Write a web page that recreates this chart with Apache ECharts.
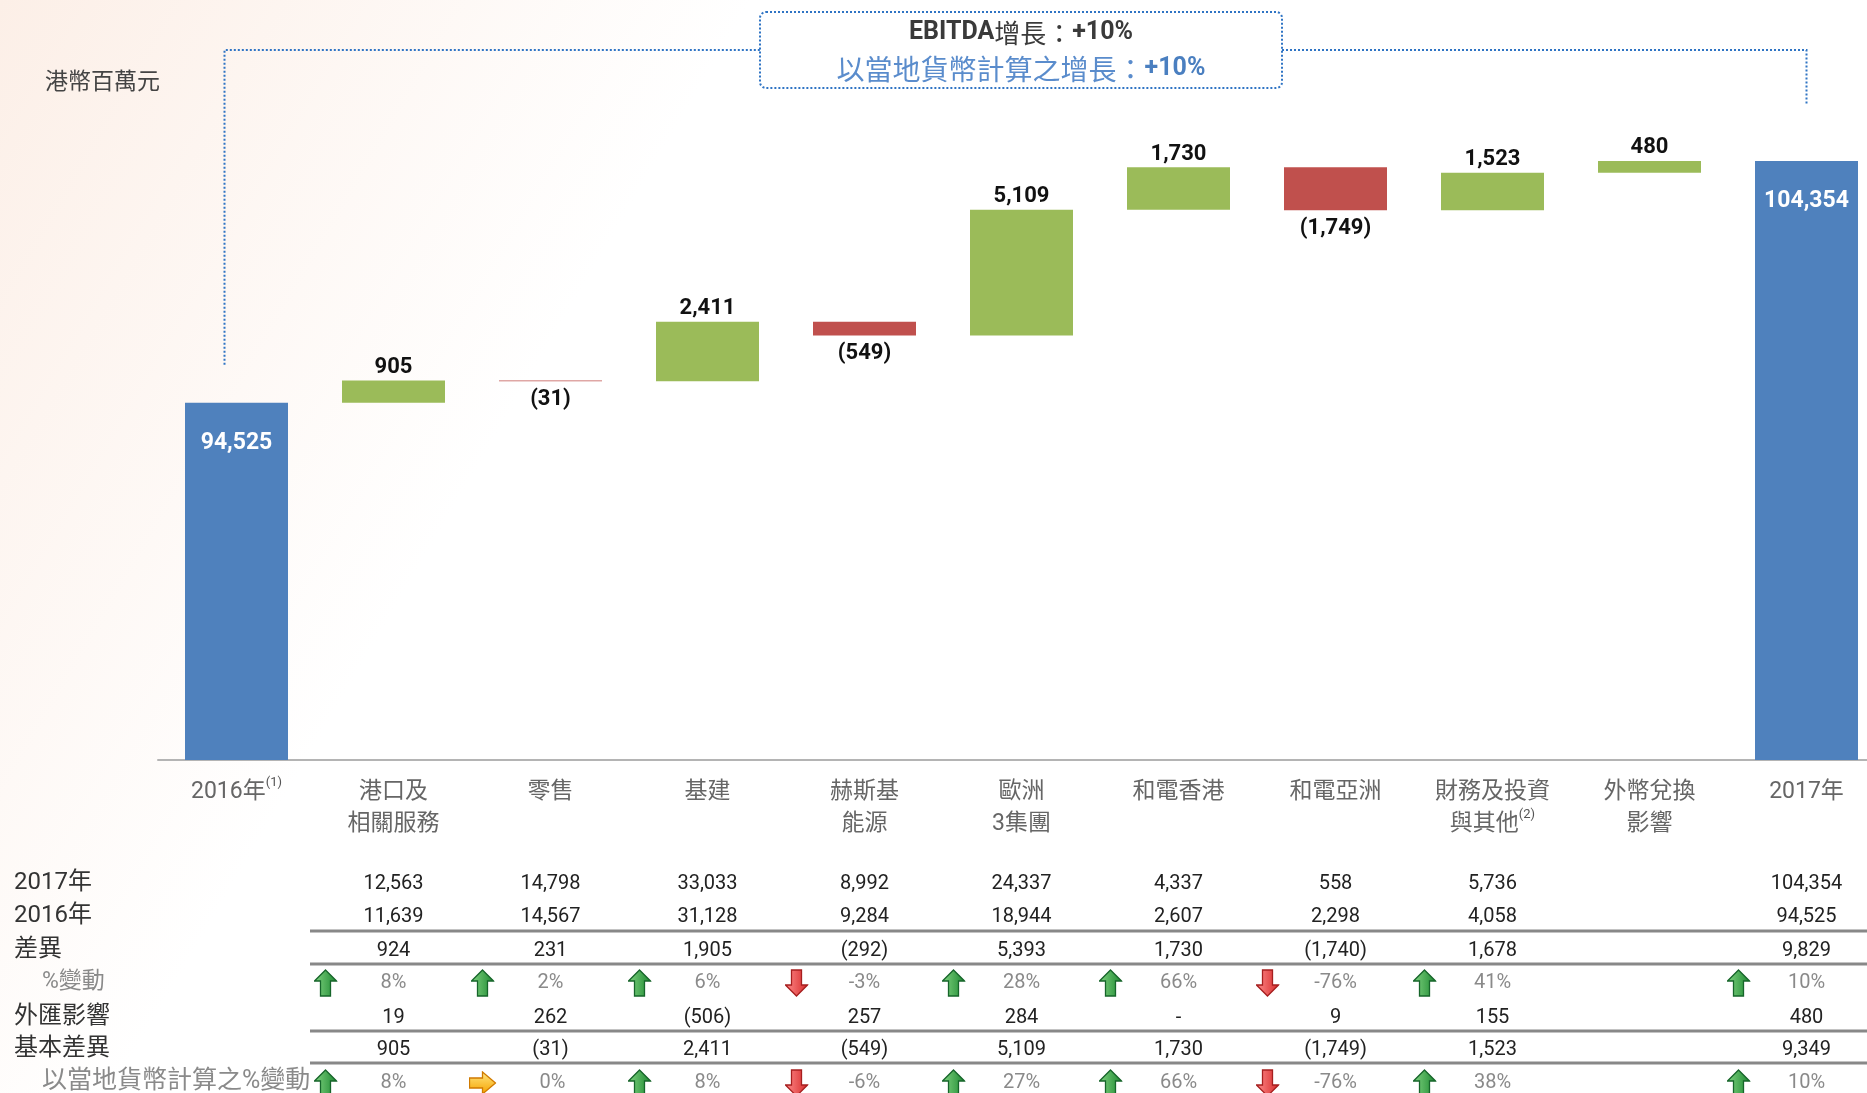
<!DOCTYPE html>
<html><head><meta charset="utf-8">
<script src="https://cdn.jsdelivr.net/npm/echarts@6/dist/echarts.min.js"></script>
<style>html,body{margin:0;padding:0;background:#fff}#c{width:1867px;height:1093px}</style>
</head><body><div id="c"></div>
<script>
// ---------- DATA ----------
const categories = ['2016年', '港口及\n相關服務', '零售', '基建', '赫斯基\n能源', '歐洲\n3集團', '和電香港', '和電亞洲', '財務及投資\n與其他', '外幣兌換\n影響', '2017年'];
const footnotes = ['(1)', '', '', '', '', '', '', '', '(2)', '', ''];
const startTotal = 94525;
const endTotal = 104354;
const deltas = [905, -31, 2411, -549, 5109, 1730, -1749, 1523, 480];

const rowLabels = ['2017年', '2016年', '差異', '%變動', '外匯影響', '基本差異', '以當地貨幣計算之%變動'];
const row2017 = [null, 12563, 14798, 33033, 8992, 24337, 4337, 558, 5736, null, 104354];
const row2016 = [null, 11639, 14567, 31128, 9284, 18944, 2607, 2298, 4058, null, 94525];
const rowDiff = [null, 924, 231, 1905, -292, 5393, 1730, -1740, 1678, null, 9829];
const rowPct = [null, 8, 2, 6, -3, 28, 66, -76, 41, null, 10];
const rowFx = [null, 19, 262, -506, 257, 284, 0, 9, 155, null, 480];
const rowUnderlying = [null, 905, -31, 2411, -549, 5109, 1730, -1749, 1523, null, 9349];
const rowLocalPct = [null, 8, 0, 8, -6, 27, 66, -76, 38, null, 10];

const unitLabel = '港幣百萬元';
const growthLine1 = ['EBITDA', '增長：', '+10%'];
const growthLine2 = ['以當地貨幣計算之增長：', '+10%'];

// ---------- STYLE ----------
const NUM_FONT = 'Roboto,"Noto Sans CJK TC",sans-serif';
const CJK_FONT = '"Noto Sans CJK TC",Roboto,sans-serif';
const GREEN = '#9bbb59', RED = '#c0504d', BLUE = '#4f81bd';

function fmtNum(v) {
  if (v === null || v === undefined) return '';
  if (v === 0) return '-';
  const s = Math.abs(v).toLocaleString('en-US');
  return v < 0 ? '(' + s + ')' : s;
}
function svgUri(s) { return 'data:image/svg+xml;charset=utf-8,' + encodeURIComponent(s); }
const upArrow = svgUri('<svg xmlns="http://www.w3.org/2000/svg" width="24" height="28" viewBox="0 0 24 28"><defs><linearGradient id="g" x1="0" y1="0" x2="1" y2="0"><stop offset="0" stop-color="#7fd27f"/><stop offset="1" stop-color="#1f8a33"/></linearGradient></defs><polygon points="12,1 23,12 17,12 17,27 7,27 7,12 1,12" fill="url(#g)" stroke="#16652a" stroke-width="1.3"/></svg>');
const downArrow = svgUri('<svg xmlns="http://www.w3.org/2000/svg" width="24" height="28" viewBox="0 0 24 28"><defs><linearGradient id="g" x1="0" y1="0" x2="1" y2="0"><stop offset="0" stop-color="#ff8a8a"/><stop offset="1" stop-color="#d62c2c"/></linearGradient></defs><polygon points="12,27 23,16 17,16 17,1 7,1 7,16 1,16" fill="url(#g)" stroke="#a61f1f" stroke-width="1.3"/></svg>');
const rightArrow = svgUri('<svg xmlns="http://www.w3.org/2000/svg" width="28" height="24" viewBox="0 0 28 24"><defs><linearGradient id="g" x1="0" y1="0" x2="0" y2="1"><stop offset="0" stop-color="#ffe680"/><stop offset="1" stop-color="#f5a300"/></linearGradient></defs><polygon points="1,7 14,7 14,1 27,12 14,23 14,17 1,17" fill="url(#g)" stroke="#d07a00" stroke-width="1.3"/></svg>');

// ---------- WATERFALL ----------
const n = categories.length;
const baseData = new Array(n).fill('-');
const totalData = new Array(n).fill('-');
const posData = new Array(n).fill('-');
const negData = new Array(n).fill('-');
totalData[0] = startTotal;
totalData[n - 1] = endTotal;
let running = startTotal;
deltas.forEach((d, k) => {
  const i = k + 1;
  if (d >= 0) { baseData[i] = running; posData[i] = d; }
  else { baseData[i] = running + d; negData[i] = -d; }
  running += d;
});

const AXIS_Y = 760;
const rowY = [883, 916, 950, 982, 1017, 1049, 1082];
const VAL_SHIFT = 1;
const rows = [
  { data: row2017, type: 'num' }, { data: row2016, type: 'num' }, { data: rowDiff, type: 'num' },
  { data: rowPct, type: 'pct' }, { data: rowFx, type: 'num' }, { data: rowUnderlying, type: 'num' },
  { data: rowLocalPct, type: 'pct' }
];

const xAxes = [{
  type: 'category', data: categories, gridIndex: 0, position: 'bottom',
  axisLine: { lineStyle: { color: '#b4b4b4', width: 2 } },
  axisTick: { show: false },
  axisLabel: {
    interval: 0, margin: 16, color: '#666', fontSize: 23, lineHeight: 32, fontFamily: NUM_FONT,
    formatter: (v, i) => v + (footnotes[i] ? '{sup|' + footnotes[i] + '}' : ''),
    rich: { sup: { fontSize: 13, color: '#555', fontFamily: NUM_FONT, verticalAlign: 'top', padding: [0, 0, 16, 0] } }
  }
}];
rows.forEach((r, ri) => {
  xAxes.push({
    type: 'category', data: categories, gridIndex: 0, position: 'bottom',
    offset: rowY[ri] + VAL_SHIFT - AXIS_Y,
    axisLine: { show: false }, axisTick: { show: false },
    axisLabel: {
      interval: 0, margin: 0, verticalAlign: 'middle', fontFamily: NUM_FONT, fontSize: 20, color: '#222',
      formatter: (v, i) => {
        const val = r.data[i];
        if (val === null) return '';
        if (r.type === 'num') return fmtNum(val);
        const arrow = val > 0 ? 'up' : (val < 0 ? 'down' : 'right');
        return '{' + arrow + '|}{p|' + val + '%}{s|}';
      },
      rich: {
        up: { width: 24, height: 28, backgroundColor: { image: upArrow } },
        down: { width: 24, height: 28, backgroundColor: { image: downArrow } },
        right: { width: 28, height: 24, backgroundColor: { image: rightArrow } },
        p: { width: 112, align: 'center', color: '#8a8a8a', fontSize: 20, fontFamily: NUM_FONT },
        s: { width: 24 }
      }
    }
  });
});

const chart = echarts.init(document.getElementById('c'), null, { renderer: 'canvas' });
const option = {
  backgroundColor: {
    type: 'linear', x: 0, y: 0, x2: 1, y2: 1,
    colorStops: [{ offset: 0, color: '#fcefe7' }, { offset: 0.3, color: '#ffffff' }, { offset: 1, color: '#ffffff' }]
  },
  animation: false,
  grid: { left: 158, top: 22, width: 1727, bottom: 1093 - AXIS_Y, containLabel: false, outerBoundsMode: 'none' },
  xAxis: xAxes,
  yAxis: { type: 'value', min: 80000, max: 110000, show: false, splitLine: { show: false } },
  series: [
    { type: 'bar', stack: 'w', data: baseData, barWidth: 103, itemStyle: { color: 'transparent' }, silent: true },
    { type: 'bar', stack: 'w', data: totalData, barWidth: 103, itemStyle: { color: BLUE },
      label: { show: true, position: 'insideTop', distance: 29, color: '#fff', fontWeight: 'bold', fontSize: 23, fontFamily: NUM_FONT,
        formatter: p => fmtNum(p.value) } },
    { type: 'bar', stack: 'w', data: posData, barWidth: 103, itemStyle: { color: GREEN },
      label: { show: true, position: 'top', distance: 2, color: '#111', fontWeight: 'bold', fontSize: 22, fontFamily: NUM_FONT,
        formatter: p => fmtNum(deltas[p.dataIndex - 1]) } },
    { type: 'bar', stack: 'w', data: negData, barWidth: 103, itemStyle: { color: RED },
      label: { show: true, position: 'bottom', distance: 7, color: '#111', fontWeight: 'bold', fontSize: 22, fontFamily: NUM_FONT,
        formatter: p => fmtNum(deltas[p.dataIndex - 1]) } }
  ]
};
chart.setOption(option);

// ---------- ANNOTATIONS (positions derived from the axes) ----------
const pStart = chart.convertToPixel({ gridIndex: 0 }, [0, startTotal]);
const pEnd = chart.convertToPixel({ gridIndex: 0 }, [n - 1, endTotal]);
const bracketY = 50;
const boxL = 760, boxR = 1282, boxT = 12, boxB = 88;
const dotted = { stroke: '#2f74c4', lineWidth: 2, lineDash: [2, 2] };
const graphics = [
  { type: 'polyline', silent: true, shape: { points: [[pStart[0] - 12, pStart[1] - 38], [pStart[0] - 12, bracketY], [boxL, bracketY]] }, style: Object.assign({ fill: null }, dotted) },
  { type: 'polyline', silent: true, shape: { points: [[boxR, bracketY], [pEnd[0], bracketY], [pEnd[0], pEnd[1] - 57]] }, style: Object.assign({ fill: null }, dotted) },
  { type: 'rect', silent: true, shape: { x: boxL, y: boxT, width: boxR - boxL, height: boxB - boxT, r: 6 }, style: Object.assign({ fill: 'rgba(255,255,255,0.6)' }, dotted) },
  { type: 'text', silent: true, x: (boxL + boxR) / 2, y: 33, style: {
      text: '{a|' + growthLine1[0] + '}{b|' + growthLine1[1] + '}{a|' + growthLine1[2] + '}', align: 'center', verticalAlign: 'middle',
      rich: { a: { fontSize: 25, fontWeight: 'bold', fill: '#3a3a3a', fontFamily: NUM_FONT }, b: { fontSize: 26, fill: '#3a3a3a', fontFamily: CJK_FONT } } } },
  { type: 'text', silent: true, x: (boxL + boxR) / 2, y: 69, style: {
      text: '{b|' + growthLine2[0] + '}{a|' + growthLine2[1] + '}', align: 'center', verticalAlign: 'middle',
      rich: { a: { fontSize: 25, fontWeight: 'bold', fill: '#4a7fc0', fontFamily: NUM_FONT }, b: { fontSize: 28, fill: '#5a8ccc', fontFamily: CJK_FONT } } } },
  { type: 'text', silent: true, x: 45, y: 80, style: { text: unitLabel, fontSize: 23, fill: '#444', fontFamily: CJK_FONT, verticalAlign: 'middle' } }
];
const rowLabelSize = [24, 24, 24, 23, 24, 24, 25];
rowLabels.forEach((t, i) => {
  const sub = (i === 3 || i === 6);
  graphics.push({ type: 'text', silent: true, x: sub ? 42 : 14, y: rowY[i], style: {
    text: t, fontSize: rowLabelSize[i], fill: sub ? '#8a8a8a' : '#333', fontFamily: NUM_FONT, verticalAlign: 'middle' } });
});
[931, 964, 1031, 1063].forEach(y => {
  graphics.push({ type: 'line', silent: true, shape: { x1: 310, y1: y, x2: 1867, y2: y }, style: { stroke: '#888', lineWidth: 3 } });
});
chart.setOption({ graphic: graphics });
</script>
</body></html>
